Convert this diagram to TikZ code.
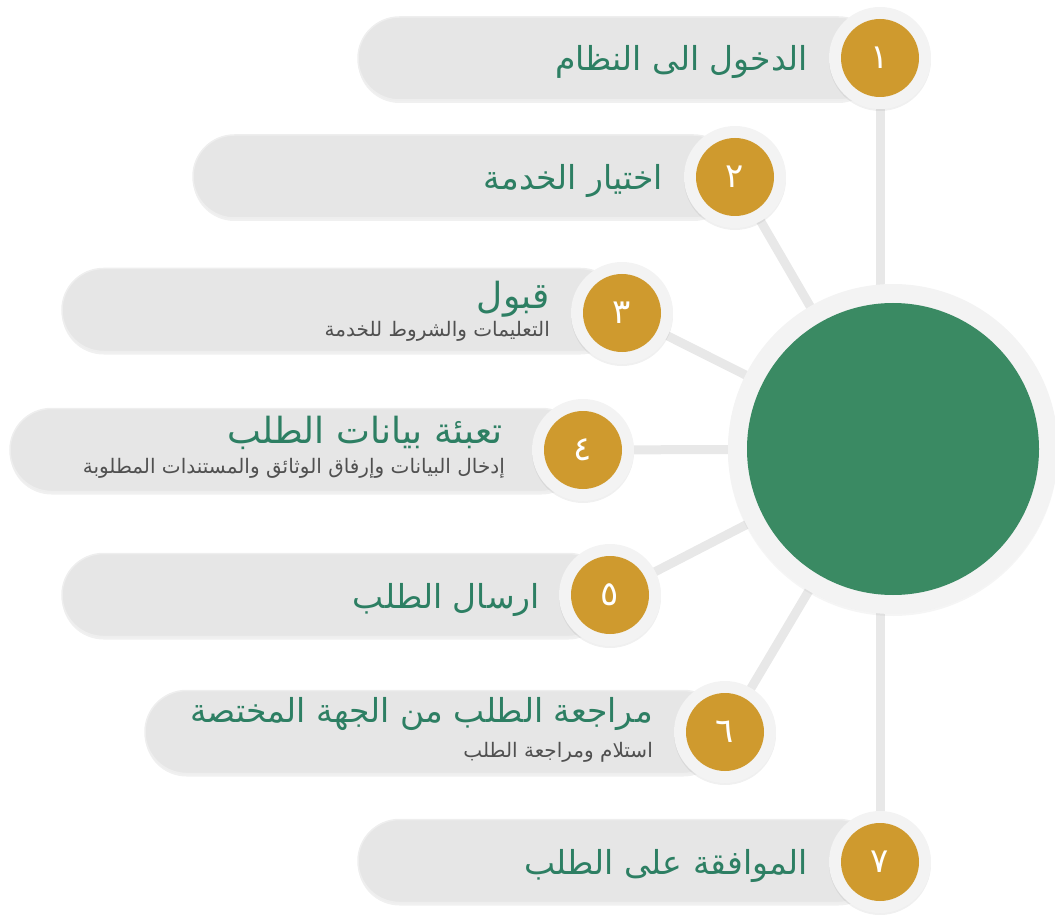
\documentclass[tikz,border=0pt]{standalone}
\usepackage{fontspec}
\newfontfamily\arabicfont[Script=Arabic]{DejaVu Sans}
\TeXXeTstate=1
\usetikzlibrary{shadows}
\definecolor{pillgray}{HTML}{E6E6E6}
\definecolor{pillborder}{HTML}{EEEEEE}
\definecolor{ringgray}{HTML}{F3F3F3}
\definecolor{linegray}{HTML}{E8E8E8}
\definecolor{gold}{HTML}{CF9A2E}
\definecolor{hubgreen}{HTML}{3A8A63}
\definecolor{titlegreen}{HTML}{2D7F63}
\definecolor{subgray}{HTML}{505050}
\pgfdeclarelayer{bg}
\pgfsetlayers{bg,main}
\tikzset{
  pill/.style={fill=pillgray, draw=pillborder, line width=1.5pt, rounded corners=41.5pt,
    minimum height=83pt, inner sep=0pt,
    drop shadow={opacity=0.12, shadow xshift=0pt, shadow yshift=-3pt}},
  ring/.style={circle, fill=ringgray, minimum size=102pt, inner sep=0pt,
    drop shadow={opacity=0.12, shadow xshift=0pt, shadow yshift=-2pt}},
  goldbadge/.style={circle, fill=gold, minimum size=78pt, inner sep=0pt, text=white,
    font=\arabicfont\fontsize{34}{34}\selectfont},
  title/.style={anchor=base east, inner sep=0pt, text=titlegreen,
    font=\arabicfont\fontsize{33}{36}\selectfont},
  bigtitle/.style={title, font=\arabicfont\fontsize{36}{38}\selectfont},
  subtitle/.style={anchor=base east, inner sep=0pt, text=subgray,
    font=\arabicfont\fontsize{20}{22}\selectfont},
  link/.style={draw=linegray, line width=9pt}
}
\begin{document}
\begin{tikzpicture}[x=1pt,y=-1pt]
\useasboundingbox (0,0) rectangle (1055,917);

% hub
\node (hubring) [circle, fill=ringgray, minimum size=330pt, inner sep=0pt,
  drop shadow={opacity=0.08, shadow xshift=0pt, shadow yshift=-2pt}] at (893,449) {};
\node (hub) [circle, fill=hubgreen, minimum size=292pt, inner sep=0pt] at (893,449) {};

% pills
\node (p1) [pill, minimum width=522pt] at (619,58.5) {};
\node (p2) [pill, minimum width=542pt] at (464,176.5) {};
\node (p3) [pill, minimum width=560pt] at (342,310) {};
\node (p4) [pill, minimum width=573pt] at (296.5,450) {};
\node (p5) [pill, minimum width=548pt] at (336,595) {};
\node (p6) [pill, minimum width=580pt] at (435,732) {};
\node (p7) [pill, minimum width=522pt] at (619,861) {};

% badges
\node (r1) [ring] at (880,58) {};
\node (b1) [goldbadge] at (880,58) {١};
\node (r2) [ring] at (735,177) {};
\node (b2) [goldbadge] at (735,177) {٢};
\node (r3) [ring] at (622,313) {};
\node (b3) [goldbadge] at (622,313) {٣};
\node (r4) [ring] at (583,450) {};
\node (b4) [goldbadge] at (583,450) {٤};
\node (r5) [ring] at (610,595) {};
\node (b5) [goldbadge] at (610,595) {٥};
\node (r6) [ring] at (725,732) {};
\node (b6) [goldbadge] at (725,732) {٦};
\node (r7) [ring] at (880,862) {};
\node (b7) [goldbadge] at (880,862) {٧};

% connectors
\begin{pgfonlayer}{bg}
\draw[link] (r1.center) -- (r1.center |- hub.center);
\draw[link] (r2.center) -- (hub.center);
\draw[link] (r3.center) -- (hub.center);
\draw[link] (r4.center) -- (hub.center);
\draw[link] (r5.center) -- (hub.center);
\draw[link] (r6.center) -- (hub.center);
\draw[link] (r7.center) -- (r7.center |- hub.center);
\end{pgfonlayer}

% texts
\node (t1) [title] at (808,71) {\beginR الدخول الى النظام\endR};
\node (t2) [title] at (663,190) {\beginR اختيار الخدمة\endR};
\node (t3) [bigtitle] at (550,309) {\beginR قبول\endR};
\node (s3) [subtitle] at (550,337) {\beginR التعليمات والشروط للخدمة\endR};
\node (t4) [bigtitle] at (503,443) {\beginR تعبئة بيانات الطلب\endR};
\node (s4) [subtitle] at (505,473) {\beginR إدخال البيانات وإرفاق الوثائق والمستندات المطلوبة\endR};
\node (t5) [title] at (540,608) {\beginR ارسال الطلب\endR};
\node (t6) [title] at (653,722) {\beginR مراجعة الطلب من الجهة المختصة\endR};
\node (s6) [subtitle] at (653,757) {\beginR استلام ومراجعة الطلب\endR};
\node (t7) [title] at (808,874) {\beginR الموافقة على الطلب\endR};
\end{tikzpicture}
\end{document}
